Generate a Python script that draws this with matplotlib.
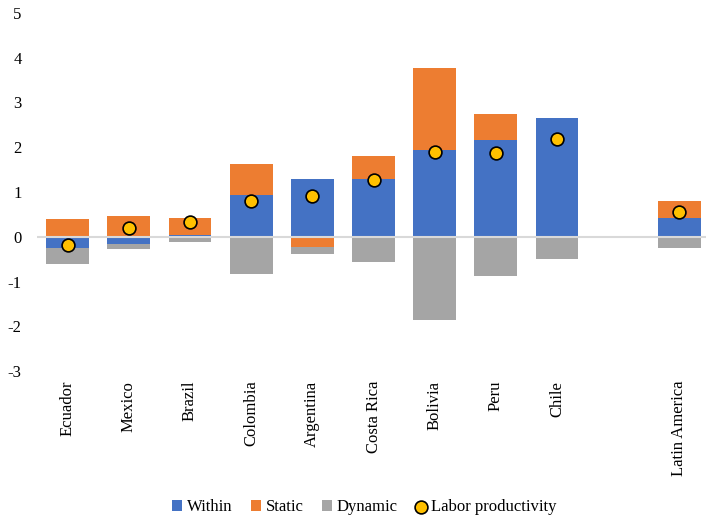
import numpy as np
import matplotlib
matplotlib.use("Agg")
import matplotlib.pyplot as plt

plt.rcParams['font.family'] = ['Liberation Serif', 'DejaVu Serif']

# data
countries = ["Ecuador", "Mexico", "Brazil", "Colombia", "Argentina",
             "Costa Rica", "Bolivia", "Peru", "Chile", "Latin America"]
positions = [0, 1, 2, 3, 4, 5, 6, 7, 8, 10]
within = [-0.25, -0.16, 0.05, 0.94, 1.29, 1.29, 1.94, 2.17, 2.65, 0.42]
static = [0.40, 0.46, 0.37, 0.69, -0.24, 0.51, 1.83, 0.58, -0.03, 0.38]
dynamic = [-0.36, -0.11, -0.11, -0.83, -0.14, -0.56, -1.87, -0.88, -0.47, -0.25]
labor = [-0.19, 0.19, 0.33, 0.80, 0.92, 1.26, 1.90, 1.88, 2.18, 0.55]

colors = {"Within": "#4472C4", "Static": "#ED7D31", "Dynamic": "#A5A5A5"}

fig = plt.figure(figsize=(7.06, 5.15), dpi=100)
ax = fig.add_axes([37 / 706, 1 - 371 / 515, 673 / 706, 358 / 515])

x = np.array(positions, dtype=float)
pos_base = np.zeros(len(x))
neg_base = np.zeros(len(x))
handles = []
for name, vals in [("Within", within), ("Static", static), ("Dynamic", dynamic)]:
    v = np.array(vals)
    base = np.where(v >= 0, pos_base, neg_base)
    h = ax.bar(x, v, bottom=base, width=0.7, color=colors[name], label=name, zorder=2)
    handles.append(h)
    pos_base += np.where(v >= 0, v, 0)
    neg_base += np.where(v < 0, v, 0)

sc = ax.scatter(x, labor, s=85, color="#FFC000", edgecolor="black", linewidth=1.2,
                zorder=4, label="Labor productivity")
handles.append(sc)

ax.axhline(0, color="#D9D9D9", linewidth=1.5, zorder=3)

ax.set_xlim(-0.5, 10.5)
ax.set_ylim(-3, 5)
ax.set_yticks(range(-3, 6))
ax.set_yticklabels([str(t) for t in range(-3, 6)], fontsize=12)
ax.set_xticks(positions)
ax.set_xticklabels(countries, rotation=90, fontsize=12, va="top", ha="center")
ax.tick_params(length=0)
ax.tick_params(axis="x", pad=7)
ax.tick_params(axis="y", pad=11)
for s in ax.spines.values():
    s.set_visible(False)

fig.legend(handles=handles, loc="lower center", bbox_to_anchor=(0.516, -0.03), ncol=4,
           frameon=False, fontsize=12, handlelength=0.6, handleheight=0.6,
           handletextpad=0.3, columnspacing=1.1)

fig.savefig("out.png", dpi=100)
